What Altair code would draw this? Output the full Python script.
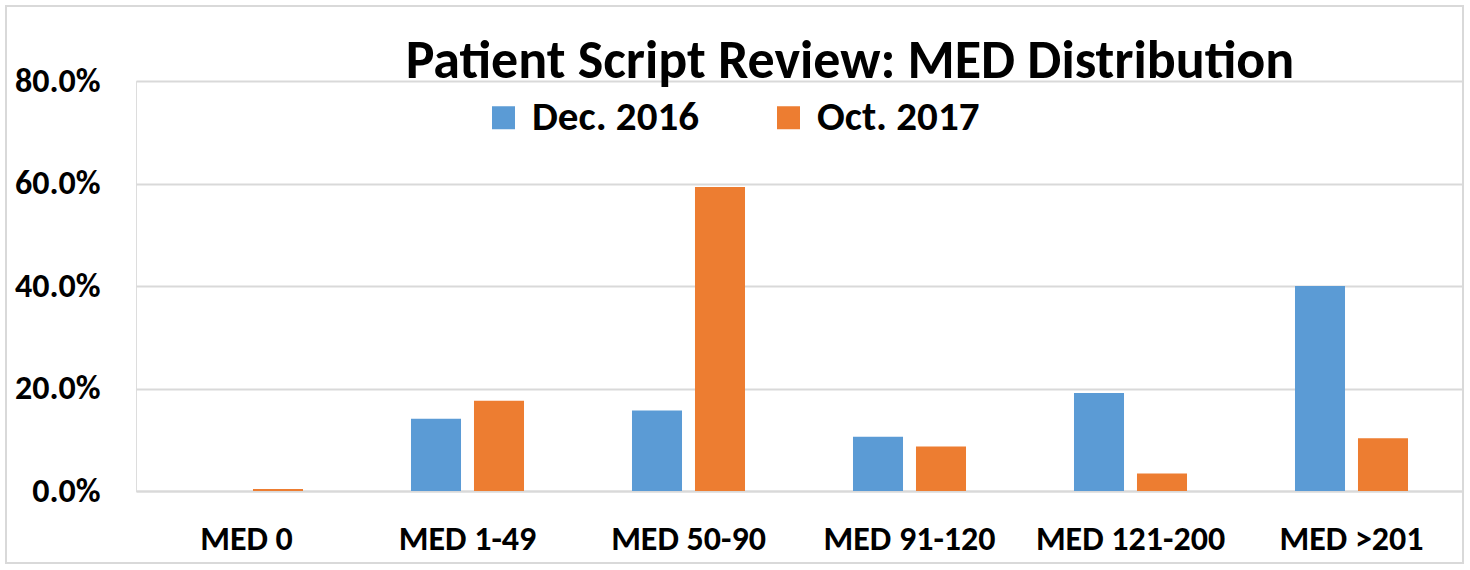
import altair as alt
import pandas as pd

categories = ["MED 0", "MED 1-49", "MED 50-90", "MED 91-120", "MED 121-200", "MED >201"]
series = ["Dec. 2016", "Oct. 2017"]
dec_2016 = [0.0, 14.1, 15.7, 10.6, 19.1, 40.0]
oct_2017 = [0.4, 17.6, 59.3, 8.7, 3.4, 10.3]
colors = ["#5B9BD5", "#ED7D31"]
y_ticks = [0, 0.2, 0.4, 0.6, 0.8]

rows = []
for c, a, b in zip(categories, dec_2016, oct_2017):
    rows.append({"cat": c, "series": series[0], "value": a / 100})
    rows.append({"cat": c, "series": series[1], "value": b / 100})
df = pd.DataFrame(rows)

FONT = "Carlito, Lato, sans-serif"
GRID = "#D9D9D9"

bars = alt.Chart(df).mark_bar().encode(
    x=alt.X(
        "cat:N", sort=categories,
        scale=alt.Scale(paddingInner=0, paddingOuter=0),
        axis=alt.Axis(title=None, labelAngle=0, labelFont=FONT, labelFontSize=34,
                      labelFontWeight="bold", labelColor="black", labelPadding=31,
                      labelLimit=0, ticks=False, domain=True, domainColor=GRID,
                      domainWidth=2, grid=False),
    ),
    xOffset=alt.XOffset("series:N", sort=series,
                        scale=alt.Scale(paddingInner=0.206, paddingOuter=0.857)),
    y=alt.Y(
        "value:Q",
        scale=alt.Scale(domain=[0, 0.8]),
        axis=alt.Axis(title=None, values=y_ticks, format=".1%", labelFont=FONT,
                      labelFontSize=34, labelFontWeight="bold", labelColor="black",
                      labelPadding=36, ticks=False, domain=False, grid=True,
                      gridColor=GRID, gridWidth=2),
    ),
    color=alt.Color(
        "series:N", sort=series,
        scale=alt.Scale(domain=series, range=colors),
        legend=alt.Legend(title=None, orient="none", legendX=347, legendY=16,
                          direction="horizontal", symbolType="square", symbolSize=529,
                          symbolStrokeWidth=0, labelFont=FONT, labelFontSize=41,
                          labelFontWeight="bold", labelColor="black", labelOffset=8,
                          labelLimit=0, columnPadding=69, padding=0),
    ),
)

border = alt.Chart(pd.DataFrame({"a": [0]})).mark_rect(
    fillOpacity=0, stroke=GRID, strokeWidth=2
).encode(
    x=alt.value(-130), x2=alt.value(1327), y=alt.value(-75), y2=alt.value(482)
)

chart = alt.layer(border, bars).properties(
    width=1326,
    height=410,
    title=alt.TitleParams(
        "Patient Script Review: MED Distribution",
        font=FONT, fontSize=54, fontWeight="bold", color="black",
        anchor="middle", dx=51, dy=84, offset=0,
    ),
    autosize=alt.AutoSizeParams(type="none"),
    padding={"left": 136, "top": 81, "right": 8, "bottom": 79},
).configure_view(stroke=None).configure(background="white")

chart.save("out.html", embed_options={"renderer": "svg", "actions": False})
